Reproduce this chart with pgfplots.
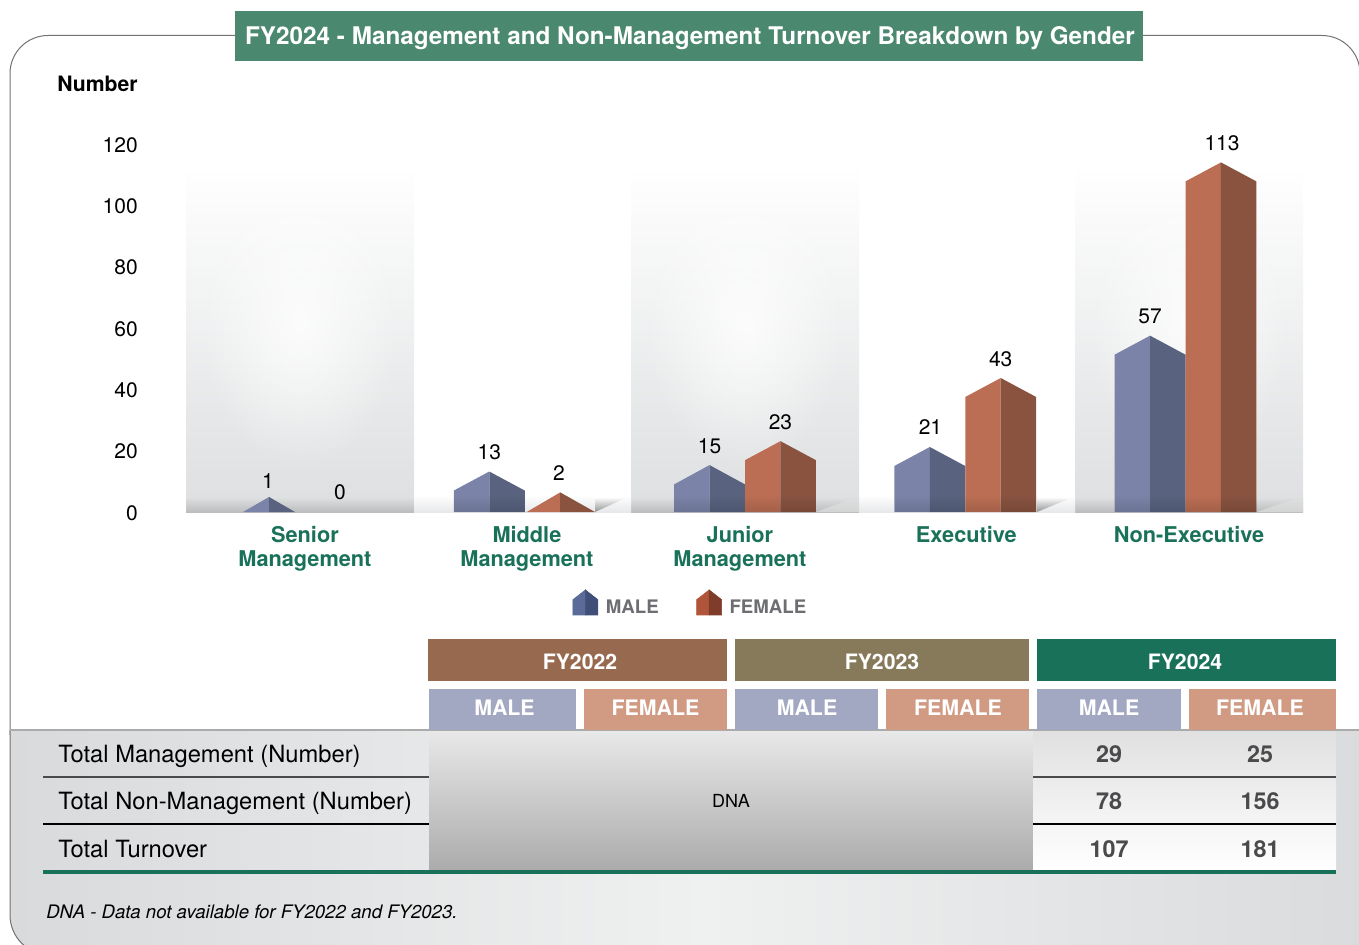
\documentclass[border=0pt]{standalone}
\usepackage{pgfplots}
\pgfplotsset{compat=1.18}
\usepackage{fontspec}
\setmainfont{TeX Gyre Heros}
\usetikzlibrary{fadings}
\tikzfading[name=softc,inner color=transparent!0,outer color=transparent!100]
\definecolor{titlegreen}{HTML}{4B8870}
\definecolor{dkgreen}{HTML}{1A7159}
\definecolor{hA}{HTML}{976A50}
\definecolor{hB}{HTML}{867A5B}
\definecolor{maleH}{HTML}{A3A8C2}
\definecolor{femH}{HTML}{D09A83}
\definecolor{mL}{HTML}{7B84A8}
\definecolor{mR}{HTML}{59637F}
\definecolor{fL}{HTML}{BB6E54}
\definecolor{fR}{HTML}{895340}
\definecolor{keyML}{HTML}{5A6A99}
\definecolor{keyMR}{HTML}{3F4F77}
\definecolor{keyFL}{HTML}{B0553A}
\definecolor{keyFR}{HTML}{7F3C2A}
\definecolor{legtxt}{HTML}{6D6E71}
\definecolor{numtxt}{HTML}{4A4A4C}
\definecolor{pg}{HTML}{DEE0E1}
\definecolor{pgd}{HTML}{BCBDBF}
\definecolor{flo}{HTML}{E7E8EA}
\definecolor{edge}{HTML}{D9DADC}
\definecolor{mid}{HTML}{EFF0F0}
\newcommand\fs[1]{\fontsize{#1}{18}\selectfont}
% #1 left edge, #2 centre, #3 right edge, #4 apex, #5 shoulder, #6 left colour, #7 right colour
\newcommand\tent[7]{%
  \addplot[fill=#6,draw=none,forget plot] coordinates {(#1,0) (#1,#5) (#2,#4) (#2,0)} --cycle;
  \addplot[fill=#7,draw=none,forget plot] coordinates {(#2,0) (#2,#4) (#3,#5) (#3,0)} --cycle;
}
\newcommand\panel[1]{%
  \shade[top color=white,bottom color=pg] (#1,165) rectangle (#1+228,497);
  \fill[white,path fading=softc,fill opacity=.8] (#1+114,325) ellipse (100 and 145);
  \shade[top color=pg,bottom color=pgd] (#1,497) rectangle (#1+228,512);
}
\newcommand\gapband[2]{%
  \shade[top color=white,bottom color=flo] (#1,495) rectangle (#2,512);
}
\newcommand\gapwedge[2]{%
  \shade[top color=white,bottom color=black!42] (#1,512) -- (#2,497) -- (#1,497) -- cycle;
}
\newcommand\panelwedge[2]{%
  \shade[top color=pg,bottom color=black!17] (#1,512) -- (#2,496) -- (#2,512) -- cycle;
}
\newcommand\basefade[2]{%
  \fill[black,path fading=north,fill opacity=.12] (#1,495) rectangle (#2,512);
}
\begin{document}
\begin{tikzpicture}
\begin{scope}[x=.75pt,y=-.75pt]
\path[use as bounding box] (0,0) rectangle (1359,945);
\clip (0,0) rectangle (1359,945);
% frame
\draw[black!55,line width=.75pt,rounded corners=28.5pt] (10,735) -- (10,35.5) -- (1360,35.5) -- (1360,735);
% bottom panel
\shade[left color=edge,right color=edge,middle color=mid] (1400,730) -- (10,730) [rounded corners=30pt] -- (10,955) [sharp corners] -- (1400,955) -- cycle;
\draw[black!55,line width=.75pt,rounded corners=30pt] (10,730) -- (10,955) -- (100,955);
\draw[black!33,line width=.9pt] (10,730) -- (1359,730);
% panels
\panel{186}\panel{631}\panel{1075}
\gapband{414}{631}\gapband{859}{1075}
\gapwedge{595}{628}\gapwedge{1037}{1073}
\panelwedge{816}{859}\panelwedge{1257}{1303}
% title
\fill[titlegreen] (235,11) rectangle (1143,61);
\node[text=white,font=\fs{18.22}\bfseries] at (690,38) {FY2024 - Management and Non-Management Turnover Breakdown by Gender};
\node[anchor=east,inner sep=0pt,font=\fs{15.9}\bfseries] at (138,84) {Number};
% table header
\fill[hA] (428,639) rectangle (727,681);
\fill[hB] (735,639) rectangle (1029,681);
\fill[dkgreen] (1037,639) rectangle (1336,681);
\fill[maleH] (429,689) rectangle (576,730);
\fill[femH] (584,689) rectangle (727,730);
\fill[maleH] (735,689) rectangle (878,730);
\fill[femH] (886,689) rectangle (1029,730);
\fill[maleH] (1037,689) rectangle (1181,730);
\fill[femH] (1189,689) rectangle (1336,730);
\foreach \x/\t in {580/FY2022,882/FY2023,1185/FY2024}
  \node[text=white,font=\fs{15.9}\bfseries] at (\x,662) {\t};
\foreach \x/\t in {504.5/MALE,655.5/FEMALE,807/MALE,958/FEMALE,1109/MALE,1260/FEMALE}
  \node[text=white,font=\fs{16}\bfseries] at (\x,707.5) {\t};
% table body
\shade[top color=black!9,bottom color=black!33] (429,731) rectangle (1033,871);
\shade[top color=black!12,bottom color=white] (1033,731) rectangle (1336,871);
\draw[numtxt,line width=1.1pt] (43,777) -- (429,777) (1033,777) -- (1336,777);
\draw[black,line width=.8pt] (43,824) -- (429,824) (1033,824) -- (1336,824);
\draw[dkgreen,line width=2.4pt] (43,872) -- (1336,872);
\node[anchor=base west,inner sep=0pt,font=\fs{17.8}] at (58,762.4) {Total Management (Number)};
\node[anchor=base west,inner sep=0pt,font=\fs{17.8}] at (58,809) {Total Non-Management (Number)};
\node[anchor=base west,inner sep=0pt,font=\fs{17.8}] at (58,857.5) {Total Turnover};
\node[font=\fs{13.5}] at (731,801) {DNA};
\foreach \y/\a/\b in {754/29/25,801/78/156,849/107/181}{
  \node[text=numtxt,font=\fs{17.5}\bfseries] at (1109,\y) {\a};
  \node[text=numtxt,font=\fs{17.5}\bfseries] at (1260,\y) {\b};
}
\node[anchor=west,inner sep=0pt,font=\fs{13.95}\itshape] at (46,912) {DNA - Data not available for FY2022 and FY2023.};
\end{scope}
\begin{axis}[
  at={(139.5pt,-384pt)},anchor=south west,
  scale only axis,width=837.75pt,height=276pt,
  xmin=-0.538,xmax=4.5335,ymin=0,ymax=120,clip=false,
  axis line style={draw=none},
  major tick length=0pt,
  ytick={0,20,...,120},
  /pgf/number format/assume math mode=true,
  yticklabel style={font=\fs{15.75},anchor=east,inner sep=0pt,xshift=-36pt,yshift=-.6pt},
  xtick={0.002,1.01,1.977,3.005,4.016},
  xticklabels={{Senior\\Management},{Middle\\Management},{Junior\\Management},{Executive},{Non-Executive}},
  xticklabel style={font=\fs{16.3}\bfseries,text=dkgreen,align=center,anchor=north,inner sep=0pt,yshift=-10.25pt},
  legend columns=2,
  legend style={at={(axis cs:1.198,-29.9)},anchor=west,draw=none,fill=none,font=\fs{14}\bfseries,text=legtxt,
    /tikz/every even column/.append style={column sep=26.25pt},
    /tikz/every odd column/.append style={column sep=3.75pt}},
]
\tent{-0.279}{-0.161}{-0.043}{4.9}{0}{mL}{mR}
\tent{0.678}{0.839}{1}{13.2}{7}{mL}{mR}
\tent{1.009}{1.161}{1.319}{6.4}{0}{fL}{fR}
\tent{1.678}{1.839}{2}{15.3}{9}{mL}{mR}
\tent{2}{2.161}{2.322}{23.1}{16.9}{fL}{fR}
\tent{2.678}{2.839}{3}{21.2}{15}{mL}{mR}
\tent{3}{3.161}{3.322}{43.7}{37.5}{fL}{fR}
\tent{3.678}{3.839}{4}{57.5}{51.3}{mL}{mR}
\tent{4}{4.161}{4.322}{114}{107.8}{fL}{fR}
\node[font=\fs{15.75},inner sep=0pt] at (axis cs:4.166,120.3) {113};
\node[font=\fs{15.75},inner sep=0pt] at (axis cs:3.839,63.9) {57};
\node[font=\fs{15.75},inner sep=0pt] at (axis cs:3.161,49.9) {43};
\node[font=\fs{15.75},inner sep=0pt] at (axis cs:2.842,27.7) {21};
\node[font=\fs{15.75},inner sep=0pt] at (axis cs:2.161,29.3) {23};
\node[font=\fs{15.75},inner sep=0pt] at (axis cs:1.839,21.5) {15};
\node[font=\fs{15.75},inner sep=0pt] at (axis cs:0.839,19.6) {13};
\node[font=\fs{15.75},inner sep=0pt] at (axis cs:1.155,12.7) {2};
\node[font=\fs{15.75},inner sep=0pt] at (axis cs:-0.166,10.1) {1};
\node[font=\fs{15.75},inner sep=0pt] at (axis cs:0.161,6.5) {0};
\addlegendimage{legend image code/.code={
  \fill[keyML] (0,-5.8pt) -- (0,5.7pt) -- (9.4pt,13pt) -- (9.4pt,-5.8pt) -- cycle;
  \fill[keyMR] (9.4pt,-5.8pt) -- (9.4pt,13pt) -- (18.75pt,5.7pt) -- (18.75pt,-5.8pt) -- cycle;}}
\addlegendentry{MALE}
\addlegendimage{legend image code/.code={
  \fill[keyFL] (0,-5.8pt) -- (0,5.7pt) -- (9.4pt,13pt) -- (9.4pt,-5.8pt) -- cycle;
  \fill[keyFR] (9.4pt,-5.8pt) -- (9.4pt,13pt) -- (18.75pt,5.7pt) -- (18.75pt,-5.8pt) -- cycle;}}
\addlegendentry{FEMALE}
\end{axis}
\begin{scope}[x=.75pt,y=-.75pt]
\basefade{454}{525}\basefade{674}{816}\basefade{895}{1037}\basefade{1115}{1257}
\end{scope}
\end{tikzpicture}
\end{document}
